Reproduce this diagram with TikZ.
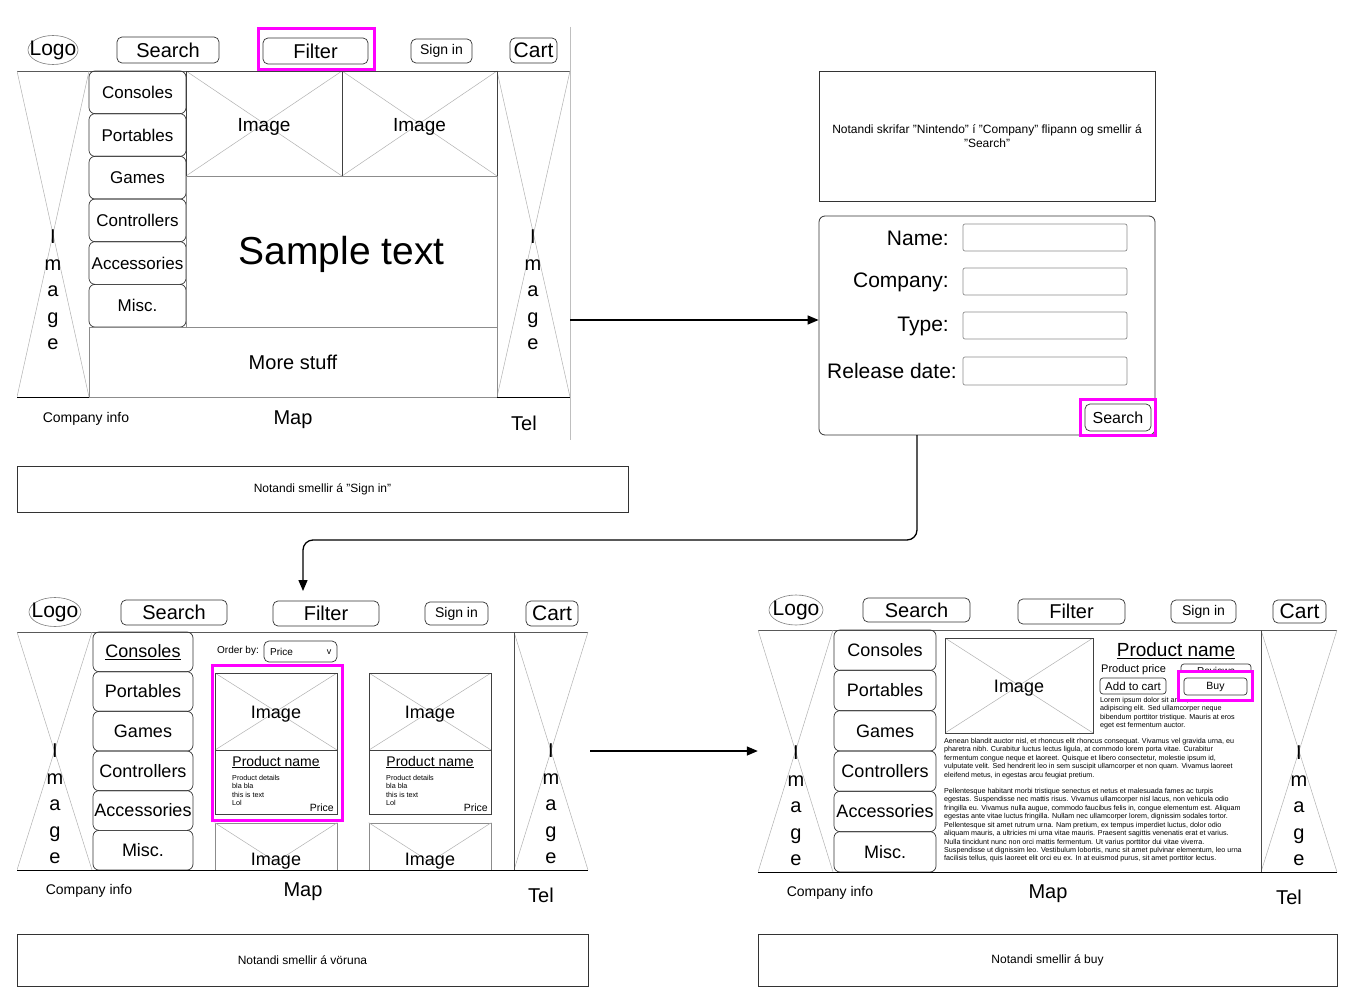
\documentclass[tikz,border=0pt]{standalone}
\usepackage{fontspec}
\setmainfont{Liberation Sans}
\usetikzlibrary{fit,arrows.meta,shapes.geometric}
\definecolor{mag}{HTML}{FF00FF}
\newcommand\fs[1]{\fontsize{#1}{#1}\selectfont}
\tikzset{
  hbtn/.style={draw=black!80, rounded corners=5pt, line width=0.7pt, inner sep=0pt},
  menu/.style={draw=black!80, rounded corners=6pt, line width=0.7pt, inner sep=0pt},
  ximg/.style={inner sep=0pt, path picture={\draw[gray!60, line width=0.5pt] (path picture bounding box.north west) -- (path picture bounding box.south east) (path picture bounding box.north east) -- (path picture bounding box.south west);}},
  ibox/.style={draw=black!75, line width=0.7pt},
  gbox/.style={draw=black!45, line width=0.7pt, inner sep=0pt},
  hilite/.style={draw=mag, line width=3pt, inner sep=0pt},
  note/.style={draw=black!80, line width=0.8pt, inner sep=0pt},
  logo/.style={draw=black!50, ellipse, inner sep=0pt, line width=0.6pt},
  vimg/.style={align=center, inner sep=0pt, font=\fontsize{20}{26.5}\selectfont},
  txt/.style={inner sep=0pt, align=center},
  low/.style={yshift=-3pt},
  para/.style={inner sep=0pt, anchor=north west, align=left, font=\fontsize{7.15}{8.45}\selectfont},
  conn/.style={line width=1.3pt, -{Triangle[length=11pt,width=9pt]}},
  topline/.style={draw=black!65, line width=0.8pt},
  botline/.style={draw=black, line width=1pt},
}
% \bx[text style]{name}{box style}{x1,y1}{x2,y2}{text}
\newcommand\bx[6][]{\node[#3, fit={(#4) (#5)}] (#2) {};\node[txt,#1] (#2-t) at (#2.center) {#6};}
\begin{document}
\begin{tikzpicture}[x=1pt,y=-1pt]
\useasboundingbox[fill=white] (0,0) rectangle (1357,1006);

% ================= Wireframe 1 =================
\draw[black!25, line width=0.6pt] (570,27) -- (570,440);
\node[logo, minimum width=50pt, minimum height=29pt] (w1logo) at (53,50) {};
\node[txt, font=\fs{21}] (w1logot) at (53,50) {Logo};
\bx[font=\fs{20}]{w1s}{hbtn}{117,37}{219,63}{Search}
\bx[font=\fs{20}]{w1f}{hbtn}{263,38}{368,64}{Filter}
\node[hilite, fit={(258,29) (374,70)}] (w1fh) {};
\bx[font=\fs{14}]{w1si}{hbtn}{411,39}{472,63}{Sign in}
\bx[font=\fs{21}]{w1c}{hbtn}{510,38}{557,63}{Cart}
\draw[topline] (17,71) -- (570,71);
\node[ximg, fit={(17,71) (89,397)}] (w1il) {};
\node[vimg] (w1ilt) at (53,290) {I\\m\\a\\g\\e};
\node[ximg, fit={(497,71) (570,397)}] (w1ir) {};
\node[vimg] (w1irt) at (533,290) {I\\m\\a\\g\\e};
\foreach \t [count=\i] in {Consoles,Portables,Games,Controllers,Accessories,Misc.} {
  \pgfmathsetmacro\ya{71+42.67*(\i-1)}
  \pgfmathsetmacro\yb{71+42.67*\i}
  \bx[font=\fs{17}]{w1m\i}{menu}{89,\ya}{186,\yb}{\t}
}
\bx[low,font=\fs{19}]{w1i1}{ximg,ibox}{186,71}{342,176}{Image}
\bx[low,font=\fs{19}]{w1i2}{ximg,ibox}{342,71}{497,176}{Image}
\bx[low,font=\fs{39}]{w1st}{gbox}{186,176}{497,327}{Sample text}
\bx[font=\fs{20}]{w1ms}{gbox}{89,327}{497,397}{More stuff}
\draw[botline] (17,397) -- (89,397) (497,397) -- (570,397);
\node[txt, font=\fs{14}] (w1ci) at (86,419) {Company info};
\node[txt, font=\fs{20}] (w1map) at (293,420) {Map};
\node[txt, font=\fs{20}] (w1tel) at (524,423) {Tel};
\bx[font=\fs{12}]{n1}{note}{17,466}{628,512}{Notandi smellir á "Sign in"}

% ================= Form =================
\bx[font=\fontsize{12}{14}\selectfont]{n2}{note}{819,71}{1155,201}{Notandi skrifar "Nintendo" í "Company" flipann og smellir á\\"Search"}
\node[draw=black!80, rounded corners=6pt, line width=0.8pt, inner sep=0pt, fit={(819,216) (1155,435)}] (form) {};
\node[txt, anchor=east, font=\fs{21}] (lname) at (949,238) {Name:};
\node[txt, anchor=east, font=\fs{21}] (lcomp) at (949,282) {Company:};
\node[txt, anchor=east, font=\fs{21}] (ltype) at (949,326) {Type:};
\node[txt, anchor=east, font=\fs{21}] (lrel) at (957,371) {Release date:};
\node[gbox, rounded corners=2pt, fit={(963,224) (1127,251)}] (iname) {};
\node[gbox, rounded corners=2pt, fit={(963,268) (1127,295)}] (icomp) {};
\node[gbox, rounded corners=2pt, fit={(963,312) (1127,339)}] (itype) {};
\node[gbox, rounded corners=2pt, fit={(963,357) (1127,385)}] (irel) {};
\bx[font=\fs{16}]{fsearch}{hbtn}{1085,404}{1151,431}{Search}
\node[hilite, fit={(1080,399) (1155,435)}] (fsh) {};

% ================= Wireframe 3 =================
\node[logo, minimum width=52pt, minimum height=29pt] (w3logo) at (55,612) {};
\node[txt, font=\fs{21}] (w3logot) at (55,612) {Logo};
\bx[font=\fs{20}]{w3s}{hbtn}{121,600}{227,625}{Search}
\bx[font=\fs{20}]{w3f}{hbtn}{273,601}{379,626}{Filter}
\bx[font=\fs{14}]{w3si}{hbtn}{425,602}{488,625}{Sign in}
\bx[font=\fs{21}]{w3c}{hbtn}{526,601}{578,626}{Cart}
\draw[topline] (17,632) -- (588,632);
\node[ximg, fit={(17,632) (92,870)}] (w3il) {};
\node[vimg] (w3ilt) at (55,804) {I\\m\\a\\g\\e};
\node[ximg, fit={(514,632) (588,870)}] (w3ir) {};
\node[vimg] (w3irt) at (551,804) {I\\m\\a\\g\\e};
\draw[black!70, line width=0.7pt] (514,632) -- (514,870);
\foreach \t [count=\i] in {\underline{Consoles},Portables,Games,Controllers,Accessories,Misc.} {
  \pgfmathsetmacro\ya{632+39.67*(\i-1)}
  \pgfmathsetmacro\yb{632+39.67*\i}
  \bx[font=\fs{18}]{w3m\i}{menu}{93,\ya}{193,\yb}{\t}
}
\node[txt, font=\fs{10}] (ordby) at (238,651) {Order by:};
\node[hbtn, fit={(264,641) (337,662)}] (dd) {};
\node[txt, anchor=west, font=\fs{10}] (ddp) at (270,651.5) {Price};
\node[txt, font=\fs{9}] (ddv) at (329,652) {v};
\foreach \x/\n in {215/a,369/b} {
  \pgfmathsetmacro\xr{\x+122}
  \bx[low,font=\fs{18}]{c\n i}{ximg,ibox}{\x,673}{\xr,750}{Image}
  \node[ibox, inner sep=0pt, fit={(\x,750) (\xr,814)}] (c\n d) {};
  \node[txt, font=\fs{14}] (c\n n) at (\x+61,762) {\underline{Product name}};
  \node[para, font=\fontsize{7.2}{8.4}\selectfont] (c\n t) at (\x+17,775) {Product details\\bla bla\\this is text\\Lol};
  \node[txt, anchor=south east, font=\fs{10.5}] (c\n p) at (\x+119,812) {Price};
  \node[gbox, inner sep=0pt, fit={(\x,823) (\xr,870)}] (c\n x) {};
  \draw[gray!60, line width=0.5pt] (c\n x.north west) -- (\x+61,862) -- (c\n x.north east);
  \node[txt, font=\fs{18}] (c\n xt) at (\x+61,861) {Image};
}
\node[hilite, fit={(212,665) (342,820)}] (cah) {};
\draw[botline] (17,870) -- (588,870);
\node[txt, font=\fs{14}] (w3ci) at (89,891) {Company info};
\node[txt, font=\fs{20}] (w3map) at (303,892) {Map};
\node[txt, font=\fs{20}] (w3tel) at (541,895) {Tel};
\bx[font=\fs{12}]{n3}{note}{17,934}{588,986}{Notandi smellir á vöruna}

% ================= Wireframe 4 =================
\node[logo, minimum width=54pt, minimum height=30pt] (w4logo) at (796,610) {};
\node[txt, font=\fs{21}] (w4logot) at (796,610) {Logo};
\bx[font=\fs{20}]{w4s}{hbtn}{863,598}{970,622}{Search}
\bx[font=\fs{20}]{w4f}{hbtn}{1018,599}{1125,624}{Filter}
\bx[font=\fs{14}]{w4si}{hbtn}{1171,600}{1236,623}{Sign in}
\bx[font=\fs{21}]{w4c}{hbtn}{1273,600}{1326,623}{Cart}
\draw[topline] (758,630) -- (1337,630);
\node[ximg, fit={(758,630) (833,872)}] (w4il) {};
\node[vimg] (w4ilt) at (796,806) {I\\m\\a\\g\\e};
\node[ximg, fit={(1261,630) (1337,872)}] (w4ir) {};
\node[vimg] (w4irt) at (1299,806) {I\\m\\a\\g\\e};
\draw[black!70, line width=0.7pt] (1261,630) -- (1261,872);
\foreach \t [count=\i] in {Consoles,Portables,Games,Controllers,Accessories,Misc.} {
  \pgfmathsetmacro\ya{630+40.33*(\i-1)}
  \pgfmathsetmacro\yb{630+40.33*\i}
  \bx[font=\fs{18}]{w4m\i}{menu}{834,\ya}{936,\yb}{\t}
}
\bx[low,font=\fs{18}]{pimg}{ximg,ibox}{945,638}{1093,733}{Image}
\node[txt, font=\fs{19}] (pname) at (1176,651) {\underline{Product name}};
\node[txt, anchor=west, font=\fs{11}] (pprice) at (1101,670) {Product price};
\node[para] (plorem) at (1100,697) {Lorem ipsum dolor sit amet, consectetur\\adipiscing elit. Sed ullamcorper neque\\bibendum porttitor tristique. Mauris at eros\\eget est fermentum auctor.};
\bx[font=\fs{10}]{prev}{hbtn,rounded corners=3pt}{1181,664}{1251,677}{Reviews}
\bx[font=\fs{11.5}]{padd}{hbtn,rounded corners=3pt}{1100,678}{1166,694}{Add to cart}
\node[hilite, fill=white, fit={(1178,671) (1252,700)}] (pbuyh) {};
\bx[font=\fs{10.5}]{pbuy}{hbtn,rounded corners=3pt}{1184,678}{1247,695}{Buy}
\node[para] (ppar2) at (944,738) {Aenean blandit auctor nisl, et rhoncus elit rhoncus consequat. Vivamus vel gravida urna, eu\\pharetra nibh. Curabitur luctus lectus ligula, at commodo lorem porta vitae. Curabitur\\fermentum congue neque et laoreet. Quisque et libero consectetur, molestie ipsum id,\\vulputate velit. Sed hendrerit leo in sem suscipit ullamcorper et non quam. Vivamus laoreet\\eleifend metus, in egestas arcu feugiat pretium.};
\node[para] (ppar3) at (944,788) {Pellentesque habitant morbi tristique senectus et netus et malesuada fames ac turpis\\egestas. Suspendisse nec mattis risus. Vivamus ullamcorper nisl lacus, non vehicula odio\\fringilla eu. Vivamus nulla augue, commodo faucibus felis in, congue elementum est. Aliquam\\egestas ante vitae luctus fringilla. Nullam nec ullamcorper lorem, dignissim sodales tortor.\\Pellentesque sit amet rutrum urna. Nam pretium, ex tempus imperdiet luctus, dolor odio\\aliquam mauris, a ultricies mi urna vitae mauris. Praesent sagittis venenatis erat et varius.\\Nulla tincidunt nunc non orci mattis fermentum. Ut varius porttitor dui vitae viverra.\\Suspendisse ut dignissim leo. Vestibulum lobortis, nunc sit amet pulvinar elementum, leo urna\\facilisis tellus, quis laoreet elit orci eu ex. In at euismod purus, sit amet porttitor lectus.};
\draw[botline] (758,872) -- (1337,872);
\node[txt, font=\fs{14}] (w4ci) at (830,893) {Company info};
\node[txt, font=\fs{20}] (w4map) at (1048,894) {Map};
\node[txt, font=\fs{20}] (w4tel) at (1289,897) {Tel};
\bx[font=\fs{12}]{n4}{note}{758,934}{1337,986}{Notandi smellir á buy}

% ================= Connectors =================
\coordinate (a1s) at (570,320);
\draw[conn] (a1s) -- (a1s -| form.west);
\coordinate (a2s) at (917,435);
\coordinate (w3top) at (303,591);
\draw[conn, rounded corners=10pt] (a2s) -- ++(0,105) -| (w3top);
\coordinate (a3s) at (590,751);
\draw[conn] (a3s) -- (w4il.west);
\end{tikzpicture}
\end{document}
